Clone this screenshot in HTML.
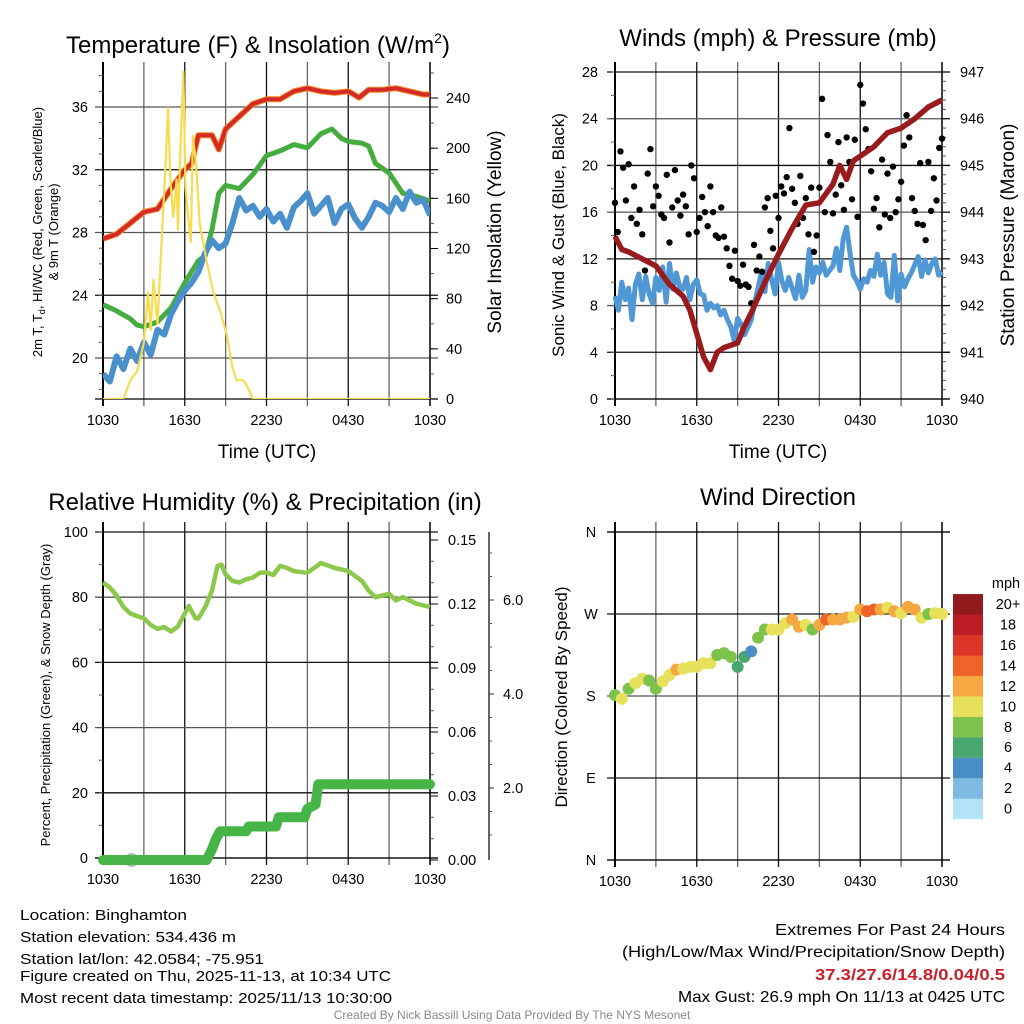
<!DOCTYPE html>
<html><head><meta charset="utf-8">
<style>
html,body{margin:0;padding:0;background:#fff;}
svg{display:block;font-family:"Liberation Sans",sans-serif;}
</style></head>
<body>
<svg id="fig" width="1024" height="1024" viewBox="0 0 1024 1024">
<g id="g1"></g>
<g id="g2"></g>
<g id="g3"></g>
<g id="g4"></g>
<g id="gt">
<text x="20" y="920" font-size="15" textLength="167" lengthAdjust="spacingAndGlyphs">Location: Binghamton</text>
<text x="20" y="942" font-size="15" textLength="216" lengthAdjust="spacingAndGlyphs">Station elevation: 534.436 m</text>
<text x="20" y="964" font-size="15" textLength="244" lengthAdjust="spacingAndGlyphs">Station lat/lon: 42.0584; -75.951</text>
<text x="20" y="981" font-size="15" textLength="371" lengthAdjust="spacingAndGlyphs">Figure created on Thu, 2025-11-13, at 10:34 UTC</text>
<text x="20" y="1003" font-size="15" textLength="372" lengthAdjust="spacingAndGlyphs">Most recent data timestamp: 2025/11/13 10:30:00</text>
<text x="775" y="935" font-size="16" textLength="230" lengthAdjust="spacingAndGlyphs">Extremes For Past 24 Hours</text>
<text x="622" y="957" font-size="16" textLength="383" lengthAdjust="spacingAndGlyphs">(High/Low/Max Wind/Precipitation/Snow Depth)</text>
<text x="815" y="980" font-size="16" font-weight="bold" fill="#c8202a" textLength="190" lengthAdjust="spacingAndGlyphs">37.3/27.6/14.8/0.04/0.5</text>
<text x="678" y="1002" font-size="16" textLength="327" lengthAdjust="spacingAndGlyphs">Max Gust: 26.9 mph On 11/13 at 0425 UTC</text>
<text x="512" y="1019" font-size="12" fill="#888" text-anchor="middle">Created By Nick Bassill Using Data Provided By The NYS Mesonet</text>
</g>
</svg>
<script>
// ---------- data ----------
const xTickLabels = ["1030","1630","2230","0430","1030"];
const tempTicks = [20,24,28,32,36];
const solarTicks = [0,40,80,120,160,200,240];
const redTimes = [0,1,2,3,4,5,6,6.5,7,8,8.5,9,10,11,12,13,14,15,16,17,18,18.8,19.5,20.5,21.5,22.5,23.5,24];
const redTemp  = [27.6,27.9,28.6,29.3,29.5,30.8,32.0,32.4,34.2,34.2,33.3,34.6,35.4,36.2,36.5,36.5,37.0,37.2,37.0,36.9,37.0,36.6,37.1,37.1,37.2,37.0,36.8,36.8];
const greenTimes = [0,1,2,2.5,3,4,5,6,7,7.5,8,8.5,9,10,11,12,13,14,15,16,16.8,17.5,18,19,19.5,20,21,22,23,24];
const greenTd = [23.4,23.0,22.5,22.1,22.0,22.3,23.2,24.8,26.2,26.5,28.2,30.5,31.0,30.8,31.7,32.9,33.2,33.6,33.4,34.3,34.6,34.0,33.8,33.7,33.5,32.4,31.8,30.5,30.3,30.0];
const blueTemp = [19.0,18.5,20.1,19.3,20.6,19.8,21.0,20.2,21.8,21.5,22.8,23.6,24.3,24.8,25.5,26.7,27.5,27.0,27.3,28.6,30.2,29.4,29.7,29.0,29.5,28.7,29.2,28.3,29.6,30.0,30.5,29.2,29.7,30.2,28.6,29.5,29.8,28.9,28.3,29.0,29.9,29.7,29.3,30.2,29.5,30.6,29.9,30.1,29.1];
const solarTimes = [0,1.5,2,2.5,3,3.3,3.5,3.7,4,4.3,4.6,4.77,4.95,5.15,5.4,5.5,5.7,5.9,6.05,6.2,6.45,6.6,6.85,7.1,7.6,8.1,8.6,9.1,9.5,9.8,10.3,10.6,11,24];
const solarW = [0,0,15,22,45,85,55,95,60,125,190,232,175,145,175,135,205,261,170,150,125,210,185,140,110,85,70,50,25,15,15,10,0,0];

const windTicks = [0,4,8,12,16,20,24,28];
const presTicks = [940,941,942,943,944,945,946,947];
const sustained = [8.8,7.6,10.0,8.5,9.5,6.8,9.8,10.7,8.5,10.5,9.0,8.2,10.4,9.3,11.3,8.3,11.6,9.4,10.8,9.6,9.4,10.4,8.5,9.8,10.2,9.0,8.9,7.6,8.2,7.8,8.0,7.2,7.6,6.8,6.2,5.0,6.9,6.4,5.5,6.1,6.8,8.3,9.5,10.9,9.2,11.6,10.2,9.0,11.7,10.1,9.3,10.4,9.5,8.6,10.6,8.7,9.3,12.8,10.0,11.3,10.8,11.7,10.6,11.0,11.4,12.9,11.0,13.7,14.7,12.5,10.6,10.1,9.4,10.3,10.0,11.0,10.5,12.4,10.6,11.7,9.0,8.7,12.3,8.4,10.7,9.6,10.3,10.8,11.5,12.2,10.5,11.9,10.8,11.6,12.0,10.6,10.9];
const gusts = [16.8,14.3,21.2,19.8,17.0,20.1,15.5,18.2,15.0,16.2,14.1,11.0,19.3,21.4,16.5,18.2,17.4,15.8,15.5,19.2,13.4,16.4,19.6,17.0,15.7,17.5,16.5,14.1,20.0,18.9,14.3,15.5,17.3,16.0,14.8,18.2,16.0,14.0,13.8,16.4,13.9,12.9,11.4,10.3,12.7,10.1,9.7,11.5,9.8,9.6,8.2,13.2,11.0,12.2,10.9,16.4,17.2,14.4,12.9,17.4,15.5,18.2,17.6,19.0,23.2,18.0,16.8,15.0,19.1,15.5,17.2,14.1,18.1,12.6,14.0,18.1,25.7,16.0,22.6,20.3,15.9,17.5,22.0,18.3,16.2,22.4,20.3,17.1,22.2,15.6,26.9,25.3,23.1,21.4,19.5,16.3,17.2,14.7,20.5,15.8,19.3,15.5,19.9,16.0,17.1,18.6,21.7,24.3,22.4,17.2,16.1,15.0,20.2,14.9,13.6,20.3,16.1,18.9,17.0,21.5,22.3];
const presTimes = [0,0.5,1,2,3,4,5,5.5,6,6.5,7,7.5,8,9,9.5,10,11,12,13,14,15,16,16.5,17,17.5,18,19,20,21,22,23,24];
const pressure = [943.48,943.2,943.15,943.0,942.85,942.45,942.2,941.9,941.4,940.9,940.63,941.0,941.1,941.2,941.55,941.85,942.5,943.1,943.65,944.15,944.2,944.6,945.0,944.7,945.1,945.2,945.4,945.7,945.8,946.0,946.25,946.4];

const rhTicks = [0,20,40,60,80,100];
const precipTicks = ["0.00","0.03","0.06","0.09","0.12","0.15"];
const snowTicks = ["2.0","4.0","6.0"];
const rhTimes = [0,0.5,1,1.5,2,2.5,3,3.5,4,4.5,5,5.5,6,6.3,6.8,7,7.5,8,8.4,8.7,9,9.5,10,10.5,11,11.5,12,12.5,13,13.5,14,15,16,17,18,19,19.5,20,21,21.5,22,23,24];
const rh = [84.5,83,80.5,77,75,74.2,73.5,71.5,70.3,70.8,69.5,71,75,77.3,73.5,73.5,77,82,89.5,90,87,85,84.5,85.5,86,87.5,87.6,86.8,89.6,89,88,87.5,90.5,89,88,85,82,80,81,79,80,78,77];
const precipTimes = [0,7.6,8.0,8.3,8.6,10.5,10.7,12.7,12.9,14.8,15.0,15.6,15.8,24];
const precip = [0,0,0.005,0.010,0.0135,0.0135,0.0157,0.0157,0.020,0.020,0.024,0.026,0.0355,0.0355];
const snowTimes = [2.1];
const snowDepth = [0.0];

const dirLabels = ["N","E","S","W","N"];
const windDir = [181,177,188,194,199,197,188,196,203,209,210,212,212,216,216,225,227,223,212,223,229,244,253,253,253,260,264,256,258,253,258,264,264,264,266,267,275,273,275,275,277,273,271,278,275,266,270,271,270];
const dirSpeed = [9,10,8,10,10,9,8,10,10,12,10,10,10,10,10,9,8,8,6,6,5,8,8,10,10,10,12,12,10,8,12,14,12,12,12,10,12,14,14,12,10,12,10,12,12,10,8,10,10];
const cbarLabels = ["0","2","4","6","8","10","12","14","16","18","20+"];
const cbarColors = ["#b3e3f7","#7db9e2","#4a8ec6","#4aa66f","#7cc24b","#e6e05a","#f5a742","#ef6329","#dd3428","#bd1e26","#921a1c"];

// ---------- helpers ----------
const NS = "http://www.w3.org/2000/svg";
function mk(parent, tag, attrs) {
  const e = document.createElementNS(NS, tag);
  for (const k in attrs) e.setAttribute(k, attrs[k]);
  parent.appendChild(e);
  return e;
}
function txt(parent, x, y, s, size, anchor, extra) {
  const t = mk(parent, "text", Object.assign({x: x, y: y, "font-size": size, "text-anchor": anchor || "middle"}, extra || {}));
  t.textContent = s;
  return t;
}
function lin(a, b, c, d) { return v => c + (v - a) * (d - c) / (b - a); }
function pathFrom(xs, ys, fx, fy) {
  return xs.map((t, i) => (i ? "L" : "M") + fx(t).toFixed(1) + "," + fy(ys[i]).toFixed(1)).join("");
}

function frame(g, X0, X1, Y0, Y1, leftTicks, ly) {
  for (let h = 3; h < 24; h += 3) {
    const x = lin(0, 24, X0, X1)(h);
    const l = mk(g, "line", {x1: x, x2: x, y1: Y0 - 10, y2: Y1 + 7, stroke: (h % 6 ? "#666" : "#111"), "stroke-width": 1.3});
    
    
  }
  leftTicks.forEach((v, i) => {
    const y = ly(v);
    const l = mk(g, "line", {x1: X0 - 8, x2: X1 + 8, y1: y, y2: y, stroke: (i % 2 ? "#111" : "#555"), "stroke-width": 1.3});
    
    
  });
  xTickLabels.forEach((s, i) => {
    const t = txt(g, lin(0, 4, X0, X1)(i), Y1 + 26, s, 14.5);
    
    
  });
  mk(g, "line", {x1: X0, x2: X0, y1: Y0 - 10, y2: Y1 + 7, stroke: "#000", "stroke-width": 2});
  mk(g, "line", {x1: X1, x2: X1, y1: Y0 - 10, y2: Y1 + 7, stroke: "#000", "stroke-width": 1.5});
  mk(g, "line", {x1: X0 - 8, x2: X1 + 8, y1: Y1, y2: Y1, stroke: "#000", "stroke-width": 1.3});
}

const X0a = 103, X1a = 430, X0b = 615, X1b = 942;
const hx1 = lin(0, 24, X0a, X1a), hx2 = lin(0, 24, X0b, X1b);

// ---------- panel 1 ----------
(function () {
  const g = document.getElementById("g1");
  const Y0 = 72, Y1 = 399;
  const ty = lin(20, 36, 358, 107);
  const sy = lin(0, 240, 399, 98);
  frame(g, X0a, X1a, Y0, Y1, tempTicks, ty);
  for (let v = 18; v <= 38; v++) mk(g, "line", {x1: X0a - 4, x2: X0a, y1: ty(v), y2: ty(v), stroke: "#555"});
  for (let v = 0; v <= 260; v += 20) mk(g, "line", {x1: X1a, x2: X1a + 4, y1: sy(v), y2: sy(v), stroke: "#555"});
  tempTicks.forEach(v => {
    const t = txt(g, 88, ty(v) + 5, String(v), 14.5, "end");
    
    
  });
  solarTicks.forEach(v => {
    mk(g, "line", {x1: X1a, x2: X1a + 8, y1: sy(v), y2: sy(v), stroke: "#000"});
    const t = txt(g, 446, sy(v) + 5, String(v), 14.5, "start");
    
    
  });
  const clip = mk(g, "clipPath", {id: "c1"});
  mk(clip, "rect", {x: X0a, y: Y0 - 4, width: X1a - X0a, height: Y1 - Y0 + 4});
  const d = mk(g, "g", {"clip-path": "url(#c1)"});
  const blueTimes = blueTemp.map((_, i) => i * 0.5);
  const s1 = mk(d, "path", {d: pathFrom(greenTimes, greenTd, hx1, ty), fill: "none", stroke: "#45ac3f", "stroke-width": 5, "stroke-linejoin": "round"});
  
  
  const s2 = mk(d, "path", {d: pathFrom(blueTimes, blueTemp, hx1, ty), fill: "none", stroke: "#4a90cc", "stroke-width": 6, "stroke-linejoin": "round"});
  
  
  const s3 = mk(d, "path", {d: pathFrom(redTimes, redTemp, hx1, ty), fill: "none", stroke: "#f08c2a", "stroke-width": 6, "stroke-linejoin": "round"});
  
  
  const s4 = mk(d, "path", {d: pathFrom(redTimes, redTemp, hx1, ty), fill: "none", stroke: "#d42a27", "stroke-width": 4, "stroke-linejoin": "round"});
  
  
  const s5 = mk(d, "path", {d: pathFrom(solarTimes, solarW, hx1, sy), fill: "none", stroke: "#f7dc4f", "stroke-width": 2.2, "stroke-linejoin": "round"});
  
  
  const t = txt(g, 258, 53, "Temperature (F) & Insolation (W/m", 24);
  
  
  const ts = mk(t, "tspan", {"font-size": 14, dy: -10}); ts.textContent = "2";
  const ts2 = mk(t, "tspan", {dy: 10}); ts2.textContent = ")";
  const xt = txt(g, 267, 458, "Time (UTC)", 19);
  
  
  const yl = txt(g, 0, 0, "2m T, T", 13, "middle", {transform: "translate(42,232) rotate(-90)"});
  const sub = mk(yl, "tspan", {"font-size": 9, dy: 3}); sub.textContent = "d";
  const rest = mk(yl, "tspan", {dy: -3}); rest.textContent = ", HI/WC (Red, Green, Scarlet/Blue)";
  
  
  const yl2 = txt(g, 0, 0, "& 9m T (Orange)", 13, "middle", {transform: "translate(58,232) rotate(-90)"});
  
  
  const yr = txt(g, 0, 0, "Solar Insolation (Yellow)", 19, "middle", {transform: "translate(501,232) rotate(-90)"});
  
  
})();

// ---------- panel 2 ----------
(function () {
  const g = document.getElementById("g2");
  const Y0 = 72, Y1 = 399;
  const wy = lin(0, 28, 399, 72);
  const py = lin(940, 947, 399, 72);
  frame(g, X0b, X1b, Y0, Y1, windTicks, wy);
  for (let v = 0; v <= 28; v += 2) mk(g, "line", {x1: X0b - 4, x2: X0b, y1: wy(v), y2: wy(v), stroke: "#555"});
  for (let v = 940; v <= 947; v += 0.2) mk(g, "line", {x1: X1b, x2: X1b + 4, y1: py(v), y2: py(v), stroke: "#555"});
  windTicks.forEach(v => {
    const t = txt(g, 598, wy(v) + 5, String(v), 14.5, "end");
    
    
  });
  presTicks.forEach(v => {
    mk(g, "line", {x1: X1b, x2: X1b + 8, y1: py(v), y2: py(v), stroke: "#000"});
    const t = txt(g, 960, py(v) + 5, String(v), 14.5, "start");
    
    
  });
  const sTimes = sustained.map((_, i) => i * 0.25);
  const s1 = mk(g, "path", {d: pathFrom(sTimes, sustained, hx2, wy), fill: "none", stroke: "#4f98d5", "stroke-width": 5, "stroke-linejoin": "round"});
  
  
  gusts.forEach((v, i) => {
    const c = mk(g, "circle", {cx: hx2(i * 0.2), cy: wy(v), r: 3.2, fill: "#000"});
    
    
  });
  const s2 = mk(g, "path", {d: pathFrom(presTimes, pressure, hx2, py), fill: "none", stroke: "#9a1b1e", "stroke-width": 5.5, "stroke-linejoin": "round"});
  
  
  const t = txt(g, 778, 46, "Winds (mph) & Pressure (mb)", 24);
  
  
  const xt = txt(g, 778, 458, "Time (UTC)", 19);
  
  
  const yl = txt(g, 0, 0, "Sonic Wind & Gust (Blue, Black)", 17, "middle", {transform: "translate(564,235) rotate(-90)"});
  
  
  const yr = txt(g, 0, 0, "Station Pressure (Maroon)", 19, "middle", {transform: "translate(1014,235) rotate(-90)"});
  
  
})();

// ---------- panel 3 ----------
(function () {
  const g = document.getElementById("g3");
  const Y0 = 532, Y1 = 858;
  const ry = lin(0, 100, 858, 532);
  const pyy = lin(0, 0.15, 860, 540);
  const sny = lin(0, 2, 882, 788);
  frame(g, X0a, X1a, Y0, Y1, rhTicks, ry);
  for (let v = 0; v <= 100; v += 10) mk(g, "line", {x1: X0a - 4, x2: X0a, y1: ry(v), y2: ry(v), stroke: "#555"});
  for (let v = 0.01; v <= 0.15; v += 0.01) mk(g, "line", {x1: X1a, x2: X1a + 4, y1: pyy(v), y2: pyy(v), stroke: "#555"});
  rhTicks.forEach(v => {
    const t = txt(g, 88, ry(v) + 5, String(v), 14.5, "end");
    
    
  });
  precipTicks.forEach(s => {
    const y = pyy(parseFloat(s));
    mk(g, "line", {x1: X1a, x2: X1a + 8, y1: y, y2: y, stroke: "#000"});
    const t = txt(g, 448, y + 5, s, 14.5, "start");
    
    
  });
  mk(g, "line", {x1: 489, x2: 489, y1: 532, y2: 860, stroke: "#333", "stroke-width": 1.5});
  for (let v = 0.5; v <= 7; v += 0.5) {
    const y = sny(v);
    if (y < 534 || y > 858) continue;
    mk(g, "line", {x1: 489, x2: 492, y1: y, y2: y, stroke: "#555"});
  }
  snowTicks.forEach(s => {
    const y = sny(parseFloat(s));
    mk(g, "line", {x1: 489, x2: 494, y1: y, y2: y, stroke: "#333"});
    const t = txt(g, 503, y + 5, s, 14.5, "start");
    
    
  });
  const s1 = mk(g, "path", {d: pathFrom(rhTimes, rh, hx1, ry), fill: "none", stroke: "#8cc84b", "stroke-width": 4.5, "stroke-linejoin": "round"});
  
  
  snowTimes.forEach((t0, i) => {
    const c = mk(g, "circle", {cx: hx1(t0), cy: pyy(0) - snowDepth[i], r: 7, fill: "#bbb"});
    
    
  });
  const s2 = mk(g, "path", {d: pathFrom(precipTimes, precip, hx1, pyy), fill: "none", stroke: "#46b446", "stroke-width": 10, "stroke-linejoin": "round", "stroke-linecap": "round"});
  
  
  const t = txt(g, 265, 510, "Relative Humidity (%) & Precipitation (in)", 24);
  
  
  const yl = txt(g, 0, 0, "Percent, Precipitation (Green), & Snow Depth (Gray)", 13, "middle", {transform: "translate(50,695) rotate(-90)"});
  
  
})();

// ---------- panel 4 ----------
(function () {
  const g = document.getElementById("g4");
  const Y0 = 532, Y1 = 860;
  const dy = lin(0, 360, 860, 532);
  frame(g, X0b, X1b, Y0, Y1, [0, 90, 180, 270, 360], dy);
  mk(g, "line", {x1: X0b - 8, x2: X1b + 8, y1: Y0, y2: Y0, stroke: "#000", "stroke-width": 1.3});
  dirLabels.forEach((s, i) => {
    const t = txt(g, 591, dy(i * 90) + 5, s, 14.5);
    
    
  });
  windDir.forEach((v, i) => {
    const k = Math.min(10, Math.floor(dirSpeed[i] / 2));
    const c = mk(g, "circle", {cx: hx2(i * 0.5), cy: dy(v), r: 6, fill: cbarColors[k]});
    
    
  });
  cbarLabels.forEach((s, i) => {
    const y = 819 - (i + 1) * 20.45;
    const r = mk(g, "rect", {x: 953, y: y, width: 30, height: 20.6, fill: cbarColors[i]});
    
    
    const t = txt(g, 1008, y + 15, s, 14.5);
    
    
  });
  const u = txt(g, 1006, 588, "mph", 14.5);
  
  
  const t = txt(g, 778, 505, "Wind Direction", 24);
  
  
  const yl = txt(g, 0, 0, "Direction (Colored By Speed)", 17, "middle", {transform: "translate(567,697) rotate(-90)"});
  
  
})();
</script>
</body></html>
